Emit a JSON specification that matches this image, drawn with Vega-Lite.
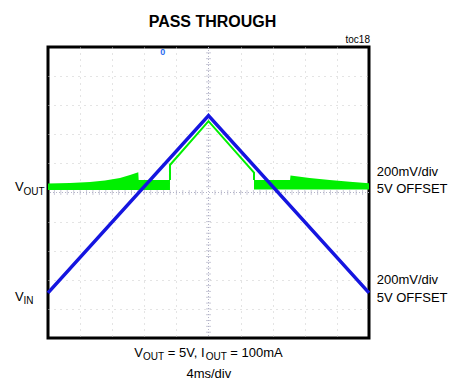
{
  "$schema": "https://vega.github.io/schema/vega-lite/v6.json",
  "width": 321,
  "height": 291,
  "autosize": {"type": "none"},
  "padding": {"left": 48, "top": 47, "right": 92, "bottom": 45},
  "background": "white",
  "config": {
    "view": {"stroke": "black", "strokeWidth": 3},
    "axis": {"labels": false, "ticks": false, "domain": false, "grid": true, "gridColor": "#c8c8c8", "gridDash": [1, 5], "gridWidth": 1}
  },
  "datasets": {
    "band": [
      {"seg": "L", "t": -20.0, "top": 0.31, "bot": 0.09},
      {"seg": "L", "t": -17.26, "top": 0.33, "bot": 0.09},
      {"seg": "L", "t": -14.77, "top": 0.36, "bot": 0.09},
      {"seg": "L", "t": -12.9, "top": 0.41, "bot": 0.09},
      {"seg": "L", "t": -11.03, "top": 0.5, "bot": 0.09},
      {"seg": "L", "t": -9.78, "top": 0.6, "bot": 0.09},
      {"seg": "L", "t": -8.75, "top": 0.7, "bot": 0.09},
      {"seg": "L", "t": -8.7, "top": 0.43, "bot": 0.09},
      {"seg": "L", "t": -4.8, "top": 0.43, "bot": 0.09},
      {"seg": "R", "t": 5.67, "top": 0.43, "bot": 0.1},
      {"seg": "R", "t": 10.16, "top": 0.43, "bot": 0.1},
      {"seg": "R", "t": 10.22, "top": 0.58, "bot": 0.1},
      {"seg": "R", "t": 12.6, "top": 0.5, "bot": 0.1},
      {"seg": "R", "t": 15.1, "top": 0.43, "bot": 0.1},
      {"seg": "R", "t": 17.6, "top": 0.37, "bot": 0.1},
      {"seg": "R", "t": 20.0, "top": 0.32, "bot": 0.1}
    ],
    "vout": [
      {"i": 0, "t": -4.8, "v": 0.43},
      {"i": 1, "t": -4.8, "v": 0.945},
      {"i": 2, "t": 0, "v": 2.45},
      {"i": 3, "t": 5.67, "v": 0.68},
      {"i": 4, "t": 5.67, "v": 0.43}
    ],
    "vin": [
      {"i": 0, "t": -20, "v": -3.45},
      {"i": 1, "t": 0, "v": 2.64},
      {"i": 2, "t": 20, "v": -3.45}
    ],
    "xt": [
      {"t": -19.2}, {"t": -18.4}, {"t": -17.6}, {"t": -16.8}, {"t": -16}, {"t": -15.2}, {"t": -14.4}, {"t": -13.6},
      {"t": -12.8}, {"t": -12}, {"t": -11.2}, {"t": -10.4}, {"t": -9.6}, {"t": -8.8}, {"t": -8}, {"t": -7.2},
      {"t": -6.4}, {"t": -5.6}, {"t": -4.8}, {"t": -4}, {"t": -3.2}, {"t": -2.4}, {"t": -1.6}, {"t": -0.8},
      {"t": 0.8}, {"t": 1.6}, {"t": 2.4}, {"t": 3.2}, {"t": 4}, {"t": 4.8}, {"t": 5.6}, {"t": 6.4},
      {"t": 7.2}, {"t": 8}, {"t": 8.8}, {"t": 9.6}, {"t": 10.4}, {"t": 11.2}, {"t": 12}, {"t": 12.8},
      {"t": 13.6}, {"t": 14.4}, {"t": 15.2}, {"t": 16}, {"t": 16.8}, {"t": 17.6}, {"t": 18.4}, {"t": 19.2}
    ],
    "yt": [
      {"v": -4.8}, {"v": -4.6}, {"v": -4.4}, {"v": -4.2}, {"v": -4}, {"v": -3.8}, {"v": -3.6}, {"v": -3.4},
      {"v": -3.2}, {"v": -3}, {"v": -2.8}, {"v": -2.6}, {"v": -2.4}, {"v": -2.2}, {"v": -2}, {"v": -1.8},
      {"v": -1.6}, {"v": -1.4}, {"v": -1.2}, {"v": -1}, {"v": -0.8}, {"v": -0.6}, {"v": -0.4}, {"v": -0.2},
      {"v": 0.2}, {"v": 0.4}, {"v": 0.6}, {"v": 0.8}, {"v": 1}, {"v": 1.2}, {"v": 1.4}, {"v": 1.6},
      {"v": 1.8}, {"v": 2}, {"v": 2.2}, {"v": 2.4}, {"v": 2.6}, {"v": 2.8}, {"v": 3}, {"v": 3.2},
      {"v": 3.4}, {"v": 3.6}, {"v": 3.8}, {"v": 4}, {"v": 4.2}, {"v": 4.4}, {"v": 4.6}, {"v": 4.8}
    ],
    "labels": [
      {"kind": "main", "t": -24.11, "v": 0.045, "txt": "V"},
      {"kind": "sub", "t": -23.05, "v": -0.103, "txt": "OUT"},
      {"kind": "main", "t": -24.11, "v": -3.73, "txt": "V"},
      {"kind": "sub", "t": -23.05, "v": -3.84, "txt": "IN"},
      {"kind": "main", "t": 20.96, "v": 0.584, "txt": "200mV/div"},
      {"kind": "main", "t": 20.96, "v": -0.034, "txt": "5V OFFSET"},
      {"kind": "main", "t": 20.96, "v": -3.16, "txt": "200mV/div"},
      {"kind": "main", "t": 20.96, "v": -3.78, "txt": "5V OFFSET"},
      {"kind": "main", "t": -9.24, "v": -5.636, "txt": "V"},
      {"kind": "sub", "t": -8.155, "v": -5.76, "txt": "OUT"},
      {"kind": "main", "t": -5.078, "v": -5.636, "txt": "= 5V, I"},
      {"kind": "sub", "t": -0.355, "v": -5.76, "txt": "OUT"},
      {"kind": "main", "t": 2.72, "v": -5.636, "txt": "= 100mA"},
      {"kind": "center", "t": 0.04, "v": -6.39, "txt": "4ms/div"},
      {"kind": "title", "t": 0.5, "v": 5.698, "txt": "PASS THROUGH"},
      {"kind": "toc", "t": 20.12, "v": 5.148, "txt": "toc18"},
      {"kind": "marker", "t": -5.71, "v": 4.845, "txt": "0"}
    ]
  },
  "layer": [
    {
      "data": {"name": "vin"},
      "mark": {"type": "line", "opacity": 0},
      "encoding": {
        "x": {"field": "t", "type": "quantitative", "scale": {"domain": [-20, 20], "nice": false, "zero": false},
              "axis": {"title": null, "values": [-16, -12, -8, -4, 4, 8, 12, 16]}},
        "y": {"field": "v", "type": "quantitative", "scale": {"domain": [-5, 5], "nice": false, "zero": false},
              "axis": {"title": null, "values": [-4, -3, -2, -1, 1, 2, 3, 4]}}
      }
    },
    {
      "data": {"values": [{"a": 0}]},
      "mark": {"type": "rule", "color": "#b4b4c8", "strokeDash": [1, 2], "strokeWidth": 1},
      "encoding": {"x": {"datum": 0}}
    },
    {
      "data": {"values": [{"a": 0}]},
      "mark": {"type": "rule", "color": "#b4b4c8", "strokeDash": [1, 2], "strokeWidth": 1},
      "encoding": {"y": {"datum": 0}}
    },
    {
      "data": {"name": "xt"},
      "mark": {"type": "tick", "orient": "vertical", "size": 5, "thickness": 1, "color": "#b4b4c8"},
      "encoding": {"x": {"field": "t", "type": "quantitative"}, "y": {"datum": 0}}
    },
    {
      "data": {"name": "yt"},
      "mark": {"type": "tick", "orient": "horizontal", "size": 5, "thickness": 1, "color": "#b4b4c8"},
      "encoding": {"y": {"field": "v", "type": "quantitative"}, "x": {"datum": 0}}
    },
    {
      "data": {"name": "band"},
      "mark": {"type": "area", "color": "#00f000", "opacity": 1},
      "encoding": {
        "x": {"field": "t", "type": "quantitative"},
        "y": {"field": "top", "type": "quantitative"},
        "y2": {"field": "bot"},
        "detail": {"field": "seg"}
      }
    },
    {
      "data": {"name": "vout"},
      "mark": {"type": "line", "color": "#00f000", "strokeWidth": 2},
      "encoding": {
        "x": {"field": "t", "type": "quantitative"},
        "y": {"field": "v", "type": "quantitative"},
        "order": {"field": "i"}
      }
    },
    {
      "data": {"name": "vin"},
      "mark": {"type": "line", "color": "#1515e0", "strokeWidth": 3.5},
      "encoding": {
        "x": {"field": "t", "type": "quantitative"},
        "y": {"field": "v", "type": "quantitative"},
        "order": {"field": "i"}
      }
    },
    {
      "data": {"name": "labels"},
      "transform": [{"filter": "datum.kind === 'main'"}],
      "mark": {"type": "text", "align": "left", "baseline": "alphabetic", "font": "Liberation Sans", "fontSize": 13, "color": "black"},
      "encoding": {"x": {"field": "t", "type": "quantitative"}, "y": {"field": "v", "type": "quantitative"}, "text": {"field": "txt"}}
    },
    {
      "data": {"name": "labels"},
      "transform": [{"filter": "datum.kind === 'sub'"}],
      "mark": {"type": "text", "align": "left", "baseline": "alphabetic", "font": "Liberation Sans", "fontSize": 10, "color": "black"},
      "encoding": {"x": {"field": "t", "type": "quantitative"}, "y": {"field": "v", "type": "quantitative"}, "text": {"field": "txt"}}
    },
    {
      "data": {"name": "labels"},
      "transform": [{"filter": "datum.kind === 'center'"}],
      "mark": {"type": "text", "align": "center", "baseline": "alphabetic", "font": "Liberation Sans", "fontSize": 13, "color": "black"},
      "encoding": {"x": {"field": "t", "type": "quantitative"}, "y": {"field": "v", "type": "quantitative"}, "text": {"field": "txt"}}
    },
    {
      "data": {"name": "labels"},
      "transform": [{"filter": "datum.kind === 'title'"}],
      "mark": {"type": "text", "align": "center", "baseline": "alphabetic", "font": "Liberation Sans", "fontSize": 16, "fontWeight": "bold", "color": "black"},
      "encoding": {"x": {"field": "t", "type": "quantitative"}, "y": {"field": "v", "type": "quantitative"}, "text": {"field": "txt"}}
    },
    {
      "data": {"name": "labels"},
      "transform": [{"filter": "datum.kind === 'toc'"}],
      "mark": {"type": "text", "align": "right", "baseline": "alphabetic", "font": "Liberation Sans", "fontSize": 10, "color": "black"},
      "encoding": {"x": {"field": "t", "type": "quantitative"}, "y": {"field": "v", "type": "quantitative"}, "text": {"field": "txt"}}
    },
    {
      "data": {"name": "labels"},
      "transform": [{"filter": "datum.kind === 'marker'"}],
      "mark": {"type": "text", "align": "center", "baseline": "middle", "font": "Liberation Sans", "fontSize": 9, "fontWeight": "bold", "color": "#2a6cf0"},
      "encoding": {"x": {"field": "t", "type": "quantitative"}, "y": {"field": "v", "type": "quantitative"}, "text": {"field": "txt"}}
    }
  ]
}
